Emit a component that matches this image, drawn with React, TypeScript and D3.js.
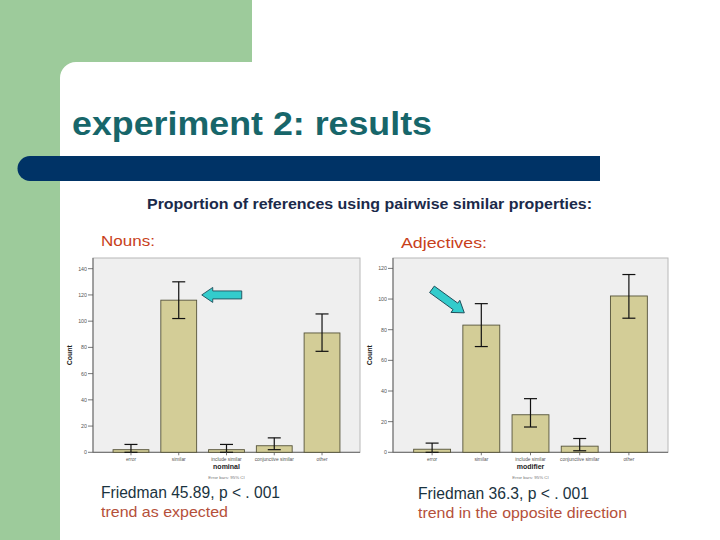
import React from 'react';
import * as d3 from 'd3';

// categories on both charts
const nounCategories = ['error', 'similar', 'include similar', 'conjunctive similar', 'other'];
const adjCategories = ['error', 'similar', 'include similar', 'conjunctive similar', 'other'];

// counts with 95% CI
const nounCounts = [2, 116, 2, 5, 91];
const nounLow = [0, 102, 0, 2, 77];
const nounHigh = [6, 130, 6, 11, 105.5];
const nounTicks = [0, 20, 40, 60, 80, 100, 120, 140];

const adjCounts = [2, 83, 24.5, 4, 102];
const adjLow = [0, 69, 16.5, 1, 87.5];
const adjHigh = [6, 97, 35, 9, 116];
const adjTicks = [0, 20, 40, 60, 80, 100, 120];

const BAR = '#d3cd97';
const BAR_STROKE = '#55533a';

interface ChartProps {
  categories: string[];
  counts: number[];
  low: number[];
  high: number[];
  ticks: number[];
  yMax: number;
  left: number;
  right: number;
  top: number;
  yTop: number;
  bottom: number;
  xTitle: string;
  arrow: { value: number; category: string; angle: number; dx: number; dy: number };
}

// arrow polygon, tip at origin, pointing to -x
const arrowPath = 'M0,0 L11,-7.5 L11,-4 L40,-4 L40,4 L11,4 L11,7.5 Z';

function BarChart({
  categories,
  counts,
  low,
  high,
  ticks,
  yMax,
  left,
  right,
  top,
  yTop,
  bottom,
  xTitle,
  arrow,
}: ChartProps) {
  const x = d3
    .scaleBand<string>()
    .domain(categories)
    .range([left, right])
    .paddingInner(0.25)
    .paddingOuter(0.42);
  const y = d3.scaleLinear().domain([0, yMax]).range([bottom, yTop]);
  const bw = x.bandwidth();
  const ax = (x(arrow.category) as number) + bw / 2 + arrow.dx;
  const ay = y(arrow.value) + arrow.dy;

  return (
    <g>
      <rect x={left} y={top} width={right - left} height={bottom - top} fill="#efefef" stroke="#b8b8b8" strokeWidth={1} />
      <line x1={left} x2={left} y1={top} y2={bottom} stroke="#666" />
      <line x1={left} x2={right} y1={bottom} y2={bottom} stroke="#666" />
      {ticks.map((t) => (
        <g key={t}>
          <line x1={left - 5} x2={left} y1={y(t)} y2={y(t)} stroke="#555" strokeWidth={0.8} />
          <text x={left - 6} y={y(t) + 1.9} fontSize={5.3} textAnchor="end" fill="#555">
            {t}
          </text>
        </g>
      ))}
      <text
        transform={`translate(${left - 21},${(top + bottom) / 2}) rotate(-90)`}
        fontSize={7}
        fontWeight="bold"
        textAnchor="middle"
        fill="#222"
      >
        Count
      </text>
      {categories.map((c, i) => {
        const cx = (x(c) as number) + bw / 2;
        return (
          <g key={c}>
            <rect
              x={x(c)}
              y={y(counts[i])}
              width={bw}
              height={bottom - y(counts[i])}
              fill={BAR}
              stroke={BAR_STROKE}
              strokeWidth={0.9}
            />
            <line x1={cx} x2={cx} y1={y(high[i])} y2={y(low[i])} stroke="#111" strokeWidth={1.2} />
            <line x1={cx - 6.5} x2={cx + 6.5} y1={y(high[i])} y2={y(high[i])} stroke="#111" strokeWidth={1.2} />
            <line x1={cx - 6.5} x2={cx + 6.5} y1={y(low[i])} y2={y(low[i])} stroke="#111" strokeWidth={1.2} />
            <line x1={cx} x2={cx} y1={bottom} y2={bottom + 3} stroke="#555" strokeWidth={0.8} />
            <text x={cx} y={bottom + 9} fontSize={4.8} textAnchor="middle" fill="#555">
              {c}
            </text>
          </g>
        );
      })}
      <text x={(left + right) / 2} y={bottom + 17} fontSize={7} fontWeight="bold" textAnchor="middle" fill="#222">
        {xTitle}
      </text>
      <text x={(left + right) / 2} y={bottom + 27} fontSize={4.4} textAnchor="middle" fill="#777">
        Error bars: 95% CI
      </text>
      <path
        d={arrowPath}
        transform={`translate(${ax},${ay}) rotate(${arrow.angle})`}
        fill="#33cccc"
        stroke="#1f4e5a"
        strokeWidth={0.9}
      />
    </g>
  );
}

export default function App() {
  const sans = '"Liberation Sans", Arial, sans-serif';
  return (
    <>
      <style>{'body{margin:0}'}</style>
      <svg width={720} height={540} viewBox="0 0 720 540" fontFamily={sans} style={{ display: 'block' }}>
        <rect width={720} height={540} fill="#fff" />
        {/* slide decoration */}
        <rect x={0} y={0} width={60} height={540} fill="#9dcb9b" />
        <rect x={0} y={0} width={252} height={62} fill="#9dcb9b" />
        <path d="M60,62 L76,62 A16,16 0 0 0 60,78 Z" fill="#9dcb9b" />
        <text x={72} y={135} fontSize={33} fontWeight="bold" fill="#17666a" textLength={360} lengthAdjust="spacingAndGlyphs">
          experiment 2: results
        </text>
        <path d="M30,156 L600,156 L600,181 L30,181 A12.5,12.5 0 0 1 30,156 Z" fill="#003366" />
        <text x={147} y={209} fontSize={15} fontWeight="bold" fill="#1b2a4a" textLength={445} lengthAdjust="spacingAndGlyphs">
          Proportion of references using pairwise similar properties:
        </text>
        <text x={101} y={246} fontSize={15} fill="#c8401a" textLength={54} lengthAdjust="spacingAndGlyphs">
          Nouns:
        </text>
        <text x={401} y={248} fontSize={15} fill="#c8401a" textLength={86} lengthAdjust="spacingAndGlyphs">
          Adjectives:
        </text>

        <BarChart
          categories={nounCategories}
          counts={nounCounts}
          low={nounLow}
          high={nounHigh}
          ticks={nounTicks}
          yMax={140}
          left={93}
          right={360}
          top={258}
          yTop={268.7}
          bottom={452.3}
          xTitle="nominal"
          arrow={{ value: 120, category: 'similar', angle: 0, dx: 23, dy: 0 }}
        />
        <BarChart
          categories={adjCategories}
          counts={adjCounts}
          low={adjLow}
          high={adjHigh}
          ticks={adjTicks}
          yMax={120}
          left={393}
          right={668}
          top={258}
          yTop={268.4}
          bottom={452.3}
          xTitle="modifier"
          arrow={{ value: 91, category: 'similar', angle: 216, dx: -17, dy: 0 }}
        />

        <text x={101} y={498} fontSize={16} fill="#1a3340" textLength={179} lengthAdjust="spacingAndGlyphs">
          Friedman 45.89, p &lt; . 001
        </text>
        <text x={101} y={517} fontSize={15} fill="#b5503a" textLength={127} lengthAdjust="spacingAndGlyphs">
          trend as expected
        </text>
        <text x={418} y={499} fontSize={16} fill="#1a3340" textLength={171} lengthAdjust="spacingAndGlyphs">
          Friedman 36.3, p &lt; . 001
        </text>
        <text x={418} y={518} fontSize={15} fill="#b5503a" textLength={209} lengthAdjust="spacingAndGlyphs">
          trend in the opposite direction
        </text>
      </svg>
    </>
  );
}
